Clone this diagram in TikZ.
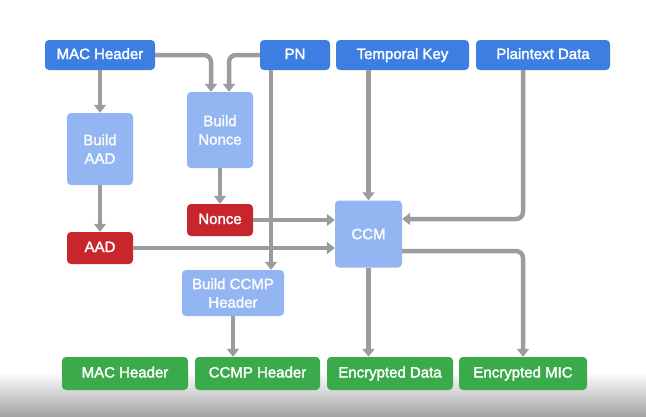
\documentclass[tikz,border=0pt]{standalone}
\usepackage{fontspec}
\setmainfont{Liberation Sans}
\newfontfamily\medfont{Liberation Sans}[FakeBold=2]
\usetikzlibrary{arrows.meta}
\definecolor{keyblue}{RGB}{61,126,227}
\definecolor{stepblue}{RGB}{147,181,242}
\definecolor{valred}{RGB}{201,37,44}
\definecolor{outgreen}{RGB}{58,170,75}
\definecolor{wire}{RGB}{154,156,160}
\begin{document}
\begin{tikzpicture}[x=1pt, y=-1pt,
          every node/.style = {shape=rectangle, rounded corners=4pt, inner sep=0pt, align=center, text=white, font=\medfont\fontsize{15}{18.5}\selectfont},
          oneline/.style = {text height=11pt, text depth=3pt},
          inbox/.style = {oneline, fill=keyblue, minimum height=30pt},
          stepbox/.style = {fill=stepblue, text=white!95!stepblue},
          valbox/.style = {oneline, fill=valred, minimum width=66pt, minimum height=32pt},
          outbox/.style = {oneline, fill=outgreen, minimum height=33pt},
          flow/.style = {draw=wire, line width=4.5pt, rounded corners=7pt, -{Triangle[width=12pt,length=8pt]}}]
          \useasboundingbox (0,0) rectangle (646,416);
          \shade[top color=white, bottom color=black!36] (0,372) rectangle (646,416);
          % inputs
          \node[inbox, minimum width=110pt] (machdr) at (100,55) {MAC Header};
          \node[inbox, minimum width=70pt] (pn) at (295,55) {PN};
          \node[inbox, minimum width=133pt] (tk) at (402.5,55) {Temporal Key};
          \node[inbox, minimum width=134pt] (ptd) at (543,55) {Plaintext Data};
          % processing steps
          \node[stepbox, minimum width=66pt, minimum height=72pt] (bldaad) at (100,149) {Build\\AAD};
          \node[stepbox, minimum width=66pt, minimum height=76pt] (bldnonce) at (220,130) {Build\\Nonce};
          \node[valbox] (nonce) at (220,220) {Nonce};
          \node[valbox] (aad) at (100,248) {AAD};
          \node[stepbox, minimum width=67pt, minimum height=67pt] (ccm) at (368.5,234) {CCM};
          \node[stepbox, minimum width=102pt, minimum height=46pt] (bldccmp) at (233,293) {Build CCMP\\Header};
          % outputs
          \node[outbox, minimum width=126pt] (outmac) at (125,373.5) {MAC Header};
          \node[outbox, minimum width=125pt] (outccmp) at (257.5,373.5) {CCMP Header};
          \node[outbox, minimum width=126pt] (encdata) at (390,373.5) {Encrypted Data};
          \node[outbox, minimum width=128pt] (encmic) at (523,373.5) {Encrypted MIC};
          % connectors
          \draw[flow] (machdr) -- (bldaad);
          \draw[flow] (machdr.east) -| ([xshift=-9pt]bldnonce.north);
          \draw[flow] (pn.west) -| ([xshift=9pt]bldnonce.north);
          \draw[flow] ([xshift=-24pt]pn.south) -- ([xshift=-24pt]pn.south |- bldccmp.north);
          \draw[flow] (bldaad) -- (aad);
          \draw[flow] (bldnonce) -- (nonce);
          \draw[flow] (nonce) -- (nonce -| ccm.west);
          \draw[flow] (aad) -- (aad -| ccm.west);
          \draw[flow] (tk.south -| ccm) -- (ccm);
          \draw[flow] (ptd.south -| encmic) |- ([yshift=15pt]ccm.east);
          \draw[flow] ([yshift=-17pt]ccm.east) -| (encmic.north);
          \draw[flow] (ccm.south) -- (ccm.south |- encdata.north);
          \draw[flow] (bldccmp.south) -- (bldccmp.south |- outccmp.north);
\end{tikzpicture}
\end{document}
